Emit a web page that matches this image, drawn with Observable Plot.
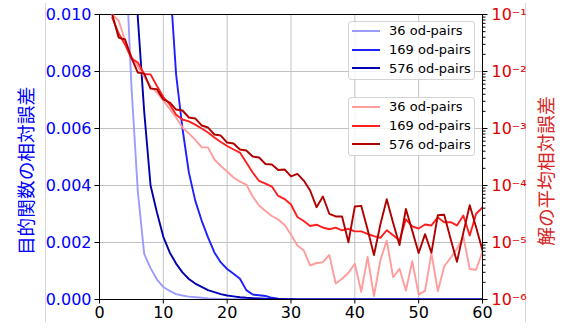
<!DOCTYPE html>
<html>
<head>
<meta charset="utf-8">
<script src="https://cdn.jsdelivr.net/npm/d3@7"></script>
<script src="https://cdn.jsdelivr.net/npm/@observablehq/plot@0.6"></script>
<style>
  html, body { margin: 0; padding: 0; background: white; }
  #fig { position: relative; width: 565px; height: 331px; overflow: hidden; background: white; }
  .layer { position: absolute; left: 0; top: 0; }
  .vline { position: absolute; top: 3px; height: 319px; width: 1px; background: #d6d6d6; }
  .ylab { position: absolute; white-space: nowrap; font-family: "Noto Sans CJK JP", sans-serif; font-size: 18.7px; line-height: 1; transform: translate(-50%, -50%) rotate(-90deg); }
  .legend { position: absolute; left: 348px; width: 127px; height: 59px; box-sizing: border-box; border: 1px solid #d4d4d4; border-radius: 3px; background: rgba(255,255,255,0.8); font-family: "DejaVu Sans", sans-serif; font-size: 13px; color: #000; }
  .row { position: absolute; left: 0; width: 100%; height: 18.8px; display: flex; align-items: center; }
  .swatch { display: inline-block; width: 28px; height: 2px; margin-left: 3px; }
  .lab { margin-left: 9px; white-space: nowrap; }
</style>
</head>
<body>
<div id="fig">
  <div class="vline" style="left:45px"></div>
  <div class="vline" style="left:525px"></div>
  <div id="base" class="layer"></div>
  <div id="over" class="layer"></div>
  <div class="ylab" id="ylabL" style="left:24.5px; top:171px; color:blue;"></div>
  <div class="ylab" id="ylabR" style="left:545px; top:171px; color:#d62728;"></div>
  <div class="legend" id="leg1" style="top:21px"></div>
  <div class="legend" id="leg2" style="top:97px"></div>
</div>
<script>
// ---- labels & ticks ----
const seriesLabels = ["36 od-pairs", "169 od-pairs", "576 od-pairs"];
const leftLabel = "目的関数の相対誤差";
const rightLabel = "解の平均相対誤差";
const xTicks = [0, 10, 20, 30, 40, 50, 60];
const leftTicks = [0, 0.002, 0.004, 0.006, 0.008, 0.010];
const rightTicks = [1e-6, 1e-5, 1e-4, 1e-3, 1e-2, 1e-1];

// ---- objective relative error (linear, left axis) ----
const blue36Start = 4;
const blue36 = [0.0125, 0.0075, 0.0038, 0.0016, 0.0011, 0.0007, 0.00044, 0.0003, 0.00019, 0.00014,
  0.0001, 0.00008, 0.00006, 0.00004, 0.00003, 0.00002, 0.000015, 0.00001, 0.000008, 0.000006,
  0.000005, 0.000004, 0.000003, 0.000002, 0.000002, 0.000001, 0.000001,
  0,0,0,0,0,0,0,0,0,0, 0,0,0,0,0,0,0,0,0,0, 0,0,0,0,0,0,0,0,0,0];
const blue169Start = 11;
const blue169 = [0.0113, 0.0079, 0.006, 0.00446, 0.00347, 0.00277, 0.00218, 0.00165, 0.0013, 0.00107,
  0.0009, 0.00073, 0.00033, 0.000175, 0.000147, 0.000123, 0.00006, 0.000025, 0.00001, 0.000005,
  0.000003, 0.000002, 0.000001,
  0,0,0,0,0,0,0,0,0,0, 0,0,0,0,0,0,0,0,0,0, 0,0,0,0,0,0,0];
const blue576Start = 5;
const blue576 = [0.02, 0.0099, 0.0066, 0.0040, 0.00305, 0.0022, 0.00165, 0.00126, 0.00095, 0.00072,
  0.00056, 0.00044, 0.00033, 0.00026, 0.00019, 0.00014, 0.00011, 0.00008, 0.00006, 0.000046,
  0.000035, 0.000025, 0.00002, 0.000015, 0.00001, 0.000008, 0.000006, 0.000004, 0.000003, 0.000002,
  0.000001,
  0,0,0,0,0,0,0,0,0,0, 0,0,0,0,0,0,0,0,0,0, 0,0,0,0,0];

// ---- mean relative error of solution (log, right axis), x = 2..60 ----
const redStart = 2;
const red36 = [0.1, 0.0785, 0.035, 0.0183, 0.0122, 0.00817, 0.00546, 0.00429, 0.0031, 0.0022,
  0.00156, 0.00104, 0.00082, 0.00063, 0.00047, 0.000466, 0.000286, 0.00022, 0.000176, 0.000138,
  0.000117, 0.000104, 6.41e-5, 4.46e-5, 3.57e-5, 2.92e-5, 2.54e-5, 2.03e-5, 1.38e-5, 8.85e-6,
  7.24e-6, 3.95e-6, 4.37e-6, 4.51e-6, 6.04e-6, 1.91e-6, 2.31e-6, 2.95e-6, 4.23e-6, 1.37e-6,
  5.61e-6, 1.15e-6, 4.89e-6, 1.08e-5, 2.46e-6, 3.46e-6, 1.44e-6, 4.68e-6, 1.22e-6, 1.42e-6,
  6.47e-6, 1.40e-6, 3.79e-6, 5.40e-6, 7.75e-6, 1.27e-5, 3.43e-6, 3.32e-6, 6.95e-6];
const red169 = [0.0885, 0.0464, 0.0298, 0.0169, 0.0144, 0.00904, 0.0089, 0.00557, 0.00357, 0.00264,
  0.00175, 0.00144, 0.00133, 0.00117, 0.00100, 8.51e-4, 6.95e-4, 5.79e-4, 4.93e-4, 4.28e-4,
  3.79e-4, 2.54e-4, 1.69e-4, 1.20e-4, 1.08e-4, 9.59e-5, 6.55e-5, 5.79e-5, 4.64e-5, 2.80e-5,
  2.38e-5, 1.95e-5, 2.05e-5, 1.83e-5, 1.71e-5, 1.82e-5, 1.63e-5, 1.74e-5, 1.57e-5, 1.57e-5,
  1.41e-5, 1.29e-5, 1.21e-5, 1.64e-5, 1.34e-5, 1.08e-5, 2.55e-5, 1.92e-5, 1.76e-5, 2.07e-5,
  1.99e-5, 2.75e-5, 2.27e-5, 2.27e-5, 1.99e-5, 2.98e-5, 1.33e-5, 3.19e-5, 4.11e-5];
const red576 = [0.1, 0.0394, 0.0364, 0.0176, 0.0096, 0.0092, 0.0050, 0.0049, 0.00323, 0.00286,
  0.00215, 0.00207, 0.00156, 0.00150, 0.00113, 0.00104, 7.85e-4, 7.53e-4, 5.67e-4, 5.46e-4,
  4.28e-4, 4.11e-4, 3.23e-4, 3.10e-4, 2.38e-4, 2.33e-4, 1.87e-4, 1.91e-4, 1.44e-4, 1.60e-4,
  1.22e-4, 8.17e-5, 4.16e-5, 6.41e-5, 3.19e-5, 2.86e-5, 2.86e-5, 1.01e-5, 4.29e-5, 4.40e-5,
  1.69e-5, 6.04e-6, 2.07e-5, 5.75e-5, 2.20e-5, 9.04e-6, 3.87e-5, 1.60e-5, 6.55e-6, 1.40e-5,
  6.62e-6, 3.01e-5, 3.06e-5, 1.16e-5, 4.58e-6, 1.49e-5, 4.51e-5, 1.85e-5, 7.24e-6];

const blueColors = ["#9c9cff", "#1f1fff", "#0000b0"];
const redColors = ["#ff9c9c", "#ff1f1f", "#b00000"];

// ---- build tables ----
const blueSeries = [[blue36, blue36Start], [blue169, blue169Start], [blue576, blue576Start]];
const blueRows = blueSeries.flatMap(([vals, x0], k) => vals.map((v, i) => ({s: seriesLabels[k], x: x0 + i, v})));
const redSeries = [red36, red169, red576];
const redRows = redSeries.flatMap((vals, k) => vals.map((v, i) => ({s: seriesLabels[k], x: redStart + i, v})));

const rightMinor = [];
for (let e = -6; e < -1; e++) for (let m = 2; m <= 9; m++) rightMinor.push(m * Math.pow(10, e));

const supMap = {"-": "⁻", "0": "⁰", "1": "¹", "2": "²", "3": "³", "4": "⁴", "5": "⁵", "6": "⁶", "7": "⁷", "8": "⁸", "9": "⁹"};
const supFmt = d => "10" + String(Math.round(Math.log10(d))).replace(/./g, c => supMap[c]);

const fontFamily = "DejaVu Sans, sans-serif";
const common = {width: 565, height: 331, marginLeft: 99, marginRight: 83, marginTop: 14, marginBottom: 32};
const gridColor = "#c2c2c2";

const base = Plot.plot({
  ...common,
  style: {fontFamily, fontSize: "16px", background: "transparent", overflow: "visible"},
  x: {domain: [0, 60]},
  y: {domain: [0, 0.01]},
  color: {domain: seriesLabels, range: blueColors},
  marks: [
    Plot.gridX(xTicks, {stroke: gridColor, strokeOpacity: 1, strokeWidth: 1}),
    Plot.gridY(leftTicks, {stroke: gridColor, strokeOpacity: 1, strokeWidth: 1}),
    Plot.line(blueRows, {x: "x", y: "v", z: "s", stroke: "s", strokeWidth: 1.9, clip: true}),
    Plot.axisX({ticks: xTicks, tickSize: 4.5, tickPadding: 3, fontSize: 16, label: null, stroke: "black", fill: "black", tickFormat: d => String(d)}),
    Plot.axisY({ticks: leftTicks, tickSize: 4.5, tickPadding: 3.5, fontSize: 16, label: null, stroke: "black", fill: "blue", tickFormat: d3.format(".3f")}),
    Plot.frame({stroke: "black", strokeWidth: 1})
  ]
});
document.getElementById("base").appendChild(base);

const over = Plot.plot({
  ...common,
  style: {fontFamily, fontSize: "16px", background: "transparent", overflow: "visible"},
  x: {domain: [0, 60], axis: null},
  y: {type: "log", domain: [1e-6, 1e-1]},
  color: {domain: seriesLabels, range: redColors},
  marks: [
    Plot.line(redRows, {x: "x", y: "v", z: "s", stroke: "s", strokeWidth: 1.9, clip: true}),
    Plot.axisY({anchor: "right", ticks: rightMinor, tickSize: 2.5, tickFormat: () => "", label: null, stroke: "black"}),
    Plot.axisY({anchor: "right", ticks: rightTicks, tickSize: 4.5, tickPadding: 4.5, fontSize: 16, label: null, stroke: "black", fill: "#e00000", tickFormat: supFmt})
  ]
});
document.getElementById("over").appendChild(over);

document.getElementById("ylabL").textContent = leftLabel;
document.getElementById("ylabR").textContent = rightLabel;

function renderLegend(el, labels, colors) {
  labels.forEach((lab, i) => {
    const row = document.createElement("div");
    row.className = "row";
    row.style.top = (-0.5 + i * 18.8) + "px";
    const sw = document.createElement("span");
    sw.className = "swatch";
    sw.style.background = colors[i];
    const tx = document.createElement("span");
    tx.className = "lab";
    tx.textContent = lab;
    row.appendChild(sw);
    row.appendChild(tx);
    el.appendChild(row);
  });
}
renderLegend(document.getElementById("leg1"), seriesLabels, blueColors);
renderLegend(document.getElementById("leg2"), seriesLabels, redColors);
</script>
</body>
</html>
